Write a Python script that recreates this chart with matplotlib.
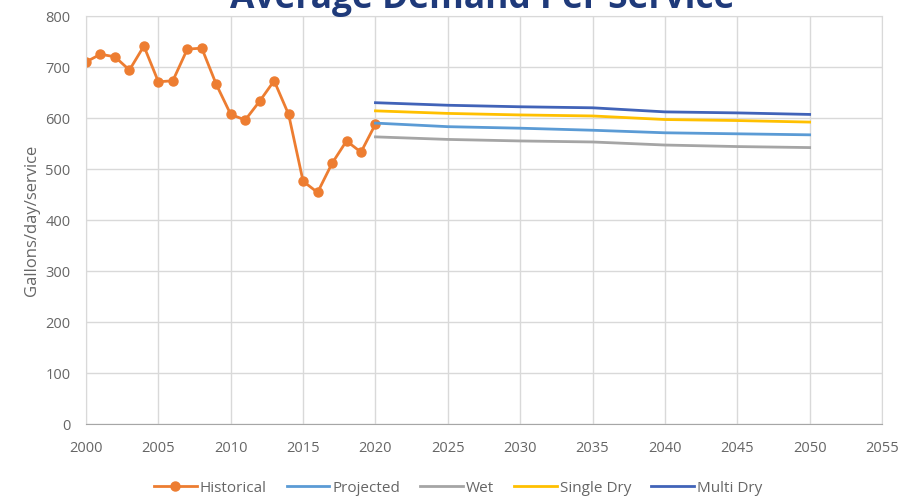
import matplotlib.pyplot as plt
from matplotlib.ticker import MultipleLocator

# historical average demand (gallons/day/service)
hist_years = list(range(2000, 2021))
hist_values = [710, 725, 720, 694, 741, 671, 673, 735, 737, 666,
               607, 596, 633, 673, 607, 476, 454, 511, 555, 533, 588]

# projection scenarios
proj_years = [2020, 2025, 2030, 2035, 2040, 2045, 2050]
projected = [590, 583, 580, 576, 571, 569, 567]
wet = [563, 558, 555, 553, 547, 544, 542]
single_dry = [614, 609, 606, 604, 597, 595, 592]
multi_dry = [630, 625, 622, 620, 612, 610, 607]

plt.rcParams["font.family"] = ["Open Sans", "DejaVu Sans"]

fig = plt.figure(figsize=(9.01, 4.98), dpi=100)
ax = fig.add_axes([86 / 901, 74 / 498, 796 / 901, 408 / 498])

ax.plot(hist_years, hist_values, color="#ED7D31", lw=2.0, marker="o", ms=6.5, label="Historical")
ax.plot(proj_years, projected, color="#5B9BD5", lw=2.0, label="Projected")
ax.plot(proj_years, wet, color="#A5A5A5", lw=2.0, label="Wet")
ax.plot(proj_years, single_dry, color="#FFC000", lw=2.0, label="Single Dry")
ax.plot(proj_years, multi_dry, color="#4163B8", lw=2.0, label="Multi Dry")

ax.set_xlim(2000, 2055)
ax.set_ylim(0, 800)
ax.xaxis.set_major_locator(MultipleLocator(5))
ax.yaxis.set_major_locator(MultipleLocator(100))
ax.grid(True, color="#D9D9D9", lw=1)
ax.set_axisbelow(True)
for side in ["top", "right", "left"]:
    ax.spines[side].set_color("#D9D9D9")
ax.spines["bottom"].set_color("#A6A6A6")
ax.tick_params(length=0, labelsize=10.5, colors="#666666")
ax.tick_params(axis="x", pad=12)
ax.tick_params(axis="y", pad=11)
ax.set_ylabel("Gallons/day/service", fontsize=12, color="#666666", labelpad=4)

fig.legend(loc="center", bbox_to_anchor=(458 / 901, 1 - 488 / 498), ncol=5,
           frameon=False, fontsize=11, labelcolor="#666666", handlelength=2.8,
           handletextpad=0.2, columnspacing=1.3)

fig.text(482 / 901, 1 - 8 / 498, "Average Demand Per Service", ha="center", va="baseline",
         fontsize=25.5, fontweight="bold", color="#1F3A7A")

fig.savefig("out.png", dpi=100)
